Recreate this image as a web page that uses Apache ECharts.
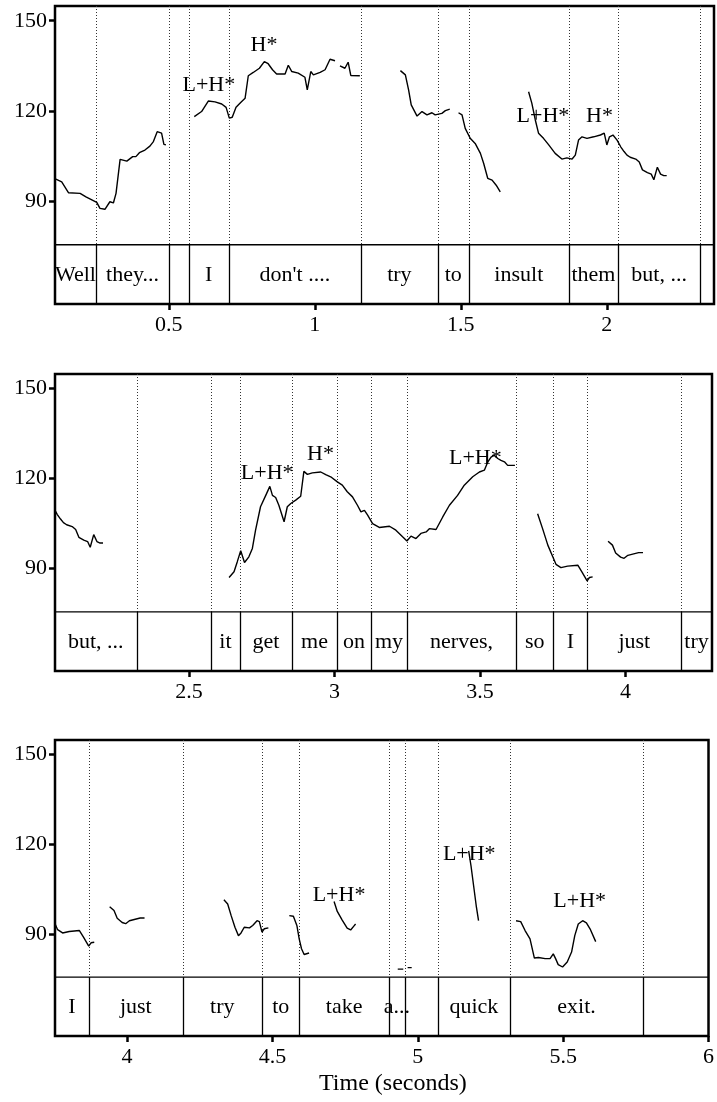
<!DOCTYPE html>
<html><head><meta charset="utf-8">
<script src="https://cdn.jsdelivr.net/npm/echarts@6/dist/echarts.min.js"></script>
<style>html,body{margin:0;padding:0;background:#fff}#c{width:717px;height:1102px}</style>
</head><body><div id="c"></div>
<script>
// ---------------- DATA ----------------
const yTicks = [90, 120, 150];
const panelRanges = [[0.110, 2.367], [2.040, 4.297], [3.752, 6.0]];
const xTicksPanel1 = [0.5, 1, 1.5, 2];
const xTicksPanel2 = [2.5, 3, 3.5, 4];
const xTicksPanel3 = [4, 4.5, 5, 5.5, 6];

// word tier: [start, end, label]
const wordIntervals = [
  [0.000, 0.250, "Well"], [0.250, 0.501, "they..."], [0.501, 0.568, ""], [0.568, 0.705, "I"],
  [0.705, 1.158, "don't ...."], [1.158, 1.421, "try"], [1.421, 1.527, "to"], [1.527, 1.870, "insult"],
  [1.870, 2.038, "them"], [2.038, 2.320, "but, ..."], [2.320, 2.577, ""], [2.577, 2.674, "it"],
  [2.674, 2.855, "get"], [2.855, 3.008, "me"], [3.008, 3.126, "on"], [3.126, 3.249, "my"],
  [3.249, 3.624, "nerves,"], [3.624, 3.752, "so"], [3.752, 3.869, "I"], [3.869, 4.191, "just"],
  [4.191, 4.464, "try"], [4.464, 4.593, "to"], [4.593, 4.900, "take"], [4.900, 4.956, "a..."],
  [4.956, 5.068, ""], [5.068, 5.318, "quick"], [5.318, 5.774, "exit."], [5.774, 6.200, ""]
];

// tone labels: [time, Hz, label]
const toneLabels = [
  [0.637, 128.7, "L+H*"], [0.826, 142.0, "H*"], [1.781, 118.1, "L+H*"], [1.975, 118.1, "H*"],
  [2.769, 121.9, "L+H*"], [2.952, 128.1, "H*"], [3.484, 126.7, "L+H*"],
  [4.729, 102.8, "L+H*"], [5.177, 116.5, "L+H*"], [5.557, 100.8, "L+H*"]
];

// pitch track (Hz), voiced stretches
const pitchWellThey = [[0.113,97.3],[0.133,96.4],[0.156,92.8],[0.196,92.6],[0.216,91.4],[0.253,89.6],[0.264,87.6],[0.281,87.3],[0.298,89.8],[0.310,89.4],[0.319,92.6],[0.333,103.9],[0.356,103.3],[0.376,104.8],[0.387,104.8],[0.399,106.1],[0.418,107.0],[0.435,108.3],[0.447,109.8],[0.460,113.1],[0.475,112.6],[0.483,108.9],[0.490,108.7]];
const pitchIDont = [[0.587,118.1],[0.612,119.8],[0.635,123.3],[0.658,123.0],[0.681,122.3],[0.696,121.2],[0.707,117.6],[0.717,117.9],[0.730,121.2],[0.746,122.8],[0.761,124.2],[0.772,131.7],[0.789,132.8],[0.810,134.2],[0.827,136.4],[0.840,135.7],[0.855,133.7],[0.869,132.3],[0.898,132.3],[0.909,135.2],[0.921,133.1],[0.943,132.6],[0.966,131.2],[0.974,127.0],[0.986,133.1],[0.995,132.0],[1.018,132.8],[1.035,133.7],[1.052,137.2],[1.069,136.7]];
const pitchDontEnd = [[1.086,135.0],[1.103,134.2],[1.114,136.2],[1.123,131.8],[1.154,131.7]];
const pitchTry1 = [[1.293,133.4],[1.310,132.0],[1.321,127.0],[1.330,122.0],[1.350,118.3],[1.367,119.8],[1.384,118.7],[1.401,119.4],[1.412,118.7],[1.435,119.2],[1.447,120.1],[1.462,120.6]];
const pitchToInsult = [[1.492,119.4],[1.504,118.7],[1.515,114.2],[1.532,110.9],[1.549,109.2],[1.567,105.9],[1.578,102.6],[1.592,97.6],[1.607,97.0],[1.621,95.3],[1.635,93.1]];
const pitchInsultBut = [[1.732,126.4],[1.743,122.6],[1.755,117.0],[1.766,112.6],[1.783,110.9],[1.801,108.7],[1.823,105.9],[1.846,104.0],[1.863,104.4],[1.881,104.0],[1.892,105.3],[1.903,110.3],[1.915,111.4],[1.932,110.9],[1.955,111.4],[1.978,112.0],[1.991,112.6],[2.000,108.7],[2.009,111.4],[2.021,112.0],[2.035,110.3],[2.048,108.0],[2.059,106.5],[2.069,105.3],[2.080,104.6],[2.099,104.0],[2.111,103.0],[2.122,100.4],[2.139,99.5],[2.152,99.0],[2.161,97.1],[2.173,101.3],[2.184,99.0],[2.195,98.5],[2.205,98.5]];
const pitchItNerves = [[2.638,87.0],[2.655,88.9],[2.666,92.2],[2.678,95.9],[2.691,92.0],[2.706,93.9],[2.718,96.7],[2.729,102.8],[2.746,110.6],[2.764,114.4],[2.778,117.4],[2.787,114.4],[2.798,113.7],[2.809,111.1],[2.827,105.6],[2.838,110.6],[2.850,111.7],[2.867,112.8],[2.884,114.1],[2.895,122.4],[2.907,121.4],[2.924,121.9],[2.953,122.2],[2.970,121.3],[2.987,120.6],[3.010,118.9],[3.027,117.8],[3.044,115.6],[3.062,113.9],[3.079,111.1],[3.091,108.9],[3.103,109.4],[3.114,107.8],[3.131,105.0],[3.154,103.7],[3.189,104.1],[3.211,102.8],[3.234,100.6],[3.249,99.2],[3.263,100.8],[3.280,100.0],[3.297,101.7],[3.315,102.2],[3.326,103.3],[3.349,103.0],[3.372,107.2],[3.395,111.1],[3.423,114.4],[3.446,117.8],[3.475,120.6],[3.498,122.2],[3.515,122.8],[3.527,125.6],[3.538,127.2],[3.549,127.8],[3.561,126.7],[3.572,126.1],[3.584,125.6],[3.595,124.4],[3.606,124.4],[3.620,124.4]];
const pitchSoI = [[3.698,108.3],[3.715,103.3],[3.733,97.8],[3.750,93.9],[3.761,91.4],[3.778,90.3],[3.801,90.8],[3.836,91.1],[3.850,88.9],[3.868,85.9],[3.876,87.0],[3.887,87.2]];
const pitchJust = [[3.940,99.1],[3.955,97.8],[3.966,95.2],[3.983,93.8],[3.995,93.4],[4.008,94.4],[4.028,94.9],[4.045,95.3],[4.060,95.3]];
const pitchTry2 = [[4.333,101.4],[4.346,100.0],[4.358,96.1],[4.371,92.2],[4.383,89.4],[4.392,90.3],[4.403,92.2],[4.421,92.0],[4.432,92.8],[4.447,94.4],[4.455,94.1],[4.464,90.6],[4.472,91.7],[4.486,92.0]];
const pitchTo2 = [[4.558,96.1],[4.572,95.9],[4.584,92.8],[4.592,88.3],[4.600,85.0],[4.609,83.1],[4.626,83.6]];
const pitchTake = [[4.712,100.8],[4.723,97.5],[4.740,94.6],[4.757,91.9],[4.769,91.3],[4.780,92.6],[4.786,93.3]];
const pitchA1 = [[4.931,78.2],[4.950,78.2]];
const pitchA2 = [[4.965,78.7],[4.979,78.7]];
const pitchQuick = [[5.175,117.8],[5.183,112.8],[5.192,106.1],[5.201,99.4],[5.209,94.4]];
const pitchExit = [[5.338,94.4],[5.354,94.1],[5.369,91.1],[5.386,88.3],[5.401,81.9],[5.415,82.1],[5.438,81.7],[5.455,81.7],[5.466,83.3],[5.474,81.7],[5.483,79.7],[5.498,78.9],[5.514,80.6],[5.529,83.9],[5.540,89.4],[5.552,93.3],[5.567,94.4],[5.580,93.7],[5.594,91.4],[5.612,87.4]];

const pitchSegments = [pitchWellThey, pitchIDont, pitchDontEnd, pitchTry1, pitchToInsult, pitchInsultBut,
  pitchItNerves, pitchSoI, pitchJust, pitchTry2, pitchTo2, pitchTake, pitchA1, pitchA2, pitchQuick, pitchExit];

// ---------------- CHART ----------------
const Y_MIN = 55.8, Y_MAX = 154.9, TIER_TOP = 75.5, TIER_MID = 65.3;
const FONT = '"Liberation Serif", "Times New Roman", Times, serif';
const FS = 22;
const xTicksAll = [xTicksPanel1, xTicksPanel2, xTicksPanel3];
const gridLayout = [
  {left: 55, top: 6, width: 659, height: 298},
  {left: 55, top: 374, width: 657, height: 297},
  {left: 55, top: 740, width: 657, height: 296}
];
const fmt = v => String(+v.toFixed(2));
const txt = {fill: '#000', fontFamily: FONT, fontSize: FS, align: 'center', verticalAlign: 'middle'};

const grids = [], xAxes = [], yAxes = [], series = [];
panelRanges.forEach((rg, i) => {
  const [x0, x1] = rg;
  grids.push(Object.assign({show: true, borderColor: '#000', borderWidth: 2.5, backgroundColor: 'transparent'}, gridLayout[i]));
  xAxes.push({
    type: 'value', gridIndex: i, min: x0, max: x1,
    axisLine: {show: false}, splitLine: {show: false},
    axisTick: {show: true, length: 6, lineStyle: {color: '#000', width: 2.5}, customValues: xTicksAll[i]},
    axisLabel: {show: true, margin: 10, color: '#000', fontFamily: FONT, fontSize: FS, formatter: fmt, customValues: xTicksAll[i]}
  });
  yAxes.push({
    type: 'value', gridIndex: i, min: Y_MIN, max: Y_MAX,
    axisLine: {show: false}, splitLine: {show: false},
    axisTick: {show: true, length: 6, lineStyle: {color: '#000', width: 2.5}, customValues: yTicks},
    axisLabel: {show: true, margin: 8, color: '#000', fontFamily: FONT, fontSize: FS, customValues: yTicks}
  });

  // pitch
  pitchSegments.forEach(seg => {
    if (seg[seg.length - 1][0] < x0 || seg[0][0] > x1) return;
    series.push({
      type: 'line', xAxisIndex: i, yAxisIndex: i, data: seg, symbol: 'none', showSymbol: false,
      clip: true, silent: true, animation: false,
      lineStyle: {color: '#000', width: 1.4}
    });
  });

  // tier top line
  series.push({
    type: 'line', xAxisIndex: i, yAxisIndex: i, data: [[x0, TIER_TOP], [x1, TIER_TOP]],
    symbol: 'none', silent: true, animation: false, lineStyle: {color: '#000', width: 1.3}
  });

  // boundaries
  const bounds = wordIntervals.map(w => w[0]).filter(t => t > x0 + 0.001 && t < x1 - 0.001);
  series.push({
    type: 'custom', xAxisIndex: i, yAxisIndex: i, silent: true, animation: false,
    data: bounds.map(t => [t, TIER_TOP]),
    renderItem: (params, api) => {
      const t = api.value(0);
      const a = api.coord([t, Y_MAX]), m = api.coord([t, TIER_TOP]), b = api.coord([t, Y_MIN]);
      const x = Math.round(a[0]) + 0.5;
      return {type: 'group', children: [
        {type: 'line', shape: {x1: x, y1: a[1], x2: x, y2: m[1]}, style: {stroke: '#333', lineWidth: 1, lineDash: [1, 2]}},
        {type: 'line', shape: {x1: x, y1: m[1], x2: x, y2: b[1]}, style: {stroke: '#000', lineWidth: 1.3}}
      ]};
    }
  });

  // words (centred in the visible part of each interval)
  const words = wordIntervals.filter(w => w[2] && w[1] > x0 + 0.005 && w[0] < x1 - 0.005)
    .map(w => [(Math.max(w[0], x0) + Math.min(w[1], x1)) / 2, TIER_MID, w[2]]);
  series.push({
    type: 'custom', xAxisIndex: i, yAxisIndex: i, silent: true, animation: false, clip: false,
    data: words.map(w => [w[0], w[1]]),
    renderItem: (params, api) => {
      const p = api.coord([api.value(0), api.value(1)]);
      return {type: 'text', x: p[0], y: p[1], style: Object.assign({text: words[params.dataIndex][2]}, txt)};
    }
  });

  // tone labels
  const tones = toneLabels.filter(t => t[0] > x0 && t[0] < x1);
  series.push({
    type: 'custom', xAxisIndex: i, yAxisIndex: i, silent: true, animation: false, clip: false,
    data: tones.map(t => [t[0], t[1]]),
    renderItem: (params, api) => {
      const p = api.coord([api.value(0), api.value(1)]);
      return {type: 'text', x: p[0], y: p[1], style: Object.assign({text: tones[params.dataIndex][2]}, txt)};
    }
  });
});

const chart = echarts.init(document.getElementById('c'), null, {renderer: 'canvas', width: 717, height: 1102});
chart.setOption({
  animation: false,
  backgroundColor: '#fff',
  grid: grids, xAxis: xAxes, yAxis: yAxes, series: series,
  graphic: [{type: 'text', left: 319, top: 1072, style: {text: 'Time (seconds)', fill: '#000', fontFamily: FONT, fontSize: 24}}]
});
</script></body></html>
